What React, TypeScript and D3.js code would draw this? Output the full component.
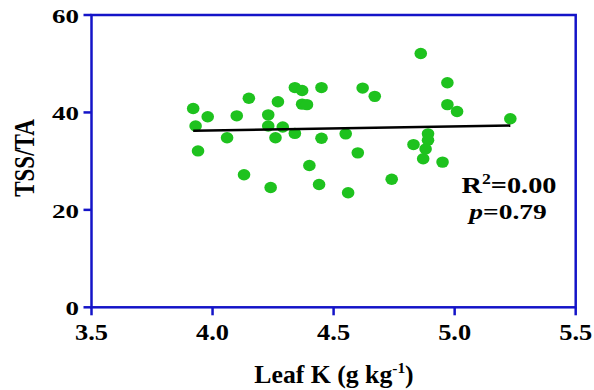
import React from 'react'
import * as d3 from 'd3'

const width = 594
const height = 390

// leaf K (g/kg) against TSS/TA
const leafK = [
  3.92, 3.98, 3.93, 3.94, 4.06, 4.10, 4.15, 4.13, 4.24, 4.23,
  4.27, 4.23, 4.26, 4.29, 4.34, 4.34, 4.37, 4.37, 4.39, 4.45,
  4.62, 4.67, 4.45, 4.55, 4.60, 4.40, 4.44, 4.56, 4.74, 4.86,
  4.97, 4.97, 5.01, 5.23, 4.89, 4.89, 4.83, 4.88, 4.87, 4.95,
]
const tssTa = [
  40.8, 39.1, 37.2, 32.1, 34.8, 39.3, 42.9, 27.2, 24.6, 39.5,
  42.2, 37.2, 34.8, 37.0, 45.1, 35.7, 44.5, 41.7, 41.6, 45.1,
  45.0, 43.3, 34.7, 35.6, 31.7, 29.1, 25.2, 23.5, 26.3, 52.1,
  46.1, 41.6, 40.2, 38.7, 35.6, 34.3, 33.4, 32.5, 30.5, 29.8,
]
const fitX = [3.92, 5.23]
const fitY = [36.25, 37.3]

const xTicks = [3.5, 4.0, 4.5, 5.0, 5.5]
const yTicks = [0, 20, 40, 60]

const blue = '#1414c8'
const green = '#1ec21e'
const font = '"Liberation Serif", "Times New Roman", serif'

function App() {
  const x = d3.scaleLinear().domain([3.5, 5.5]).range([91.5, 575.7])
  const y = d3.scaleLinear().domain([0, 60]).range([307.3, 15])
  const fmt = d3.format('.1f')
  const line = d3.line<number>().x(d => x(fitX[d])).y(d => y(fitY[d]))

  return (
    <svg width={width} height={height} style={{ position: 'absolute', left: 0, top: 0, background: '#fff' }}
      fontFamily={font} fontWeight="bold">
      {/* frame */}
      <rect x={x(3.5)} y={y(60)} width={x(5.5) - x(3.5)} height={y(0) - y(60)}
        fill="none" stroke={blue} strokeWidth={2.5} />

      {yTicks.map(t => (
        <g key={t}>
          <line x1={x(3.5) - 8} x2={x(3.5)} y1={y(t)} y2={y(t)} stroke={blue} strokeWidth={2.5} />
          <text transform={`translate(79,${y(t) + 8}) scale(1.42,1)`} textAnchor="end" fontSize={19}
            fontFamily={font}>{t}</text>
        </g>
      ))}
      {xTicks.map(t => (
        <g key={t}>
          <line x1={x(t)} x2={x(t)} y1={y(0)} y2={y(0) + 8} stroke={blue} strokeWidth={2.5} />
          <text transform={`translate(${x(t)},340) scale(1.1,1)`} textAnchor="middle" fontSize={24}
            fontFamily={font}>{fmt(t)}</text>
        </g>
      ))}

      {/* axis titles */}
      <text transform="translate(334,383) scale(1.03,1)" textAnchor="middle" fontSize={25}>
        Leaf K (g kg<tspan dy={-10} fontSize={15}>-1</tspan><tspan dy={10}>)</tspan>
      </text>
      <text transform="translate(34,158) rotate(-90) scale(1,1.25)" textAnchor="middle" fontSize={23}>TSS/TA</text>

      {/* points */}
      {leafK.map((k, i) => (
        <ellipse key={i} cx={x(k)} cy={y(tssTa[i])} rx={6.3} ry={5.7} fill={green} />
      ))}

      {/* fit */}
      <path d={line([0, 1]) ?? ''} fill="none" stroke="#000" strokeWidth={2.5} />

      {/* stats */}
      <text transform="translate(509,193) scale(1.18,1)" textAnchor="middle" fontSize={24}>
        R<tspan dy={-9} fontSize={15}>2</tspan><tspan dy={9}>=0.00</tspan>
      </text>
      <text transform="translate(508,219) scale(1.25,1)" textAnchor="middle" fontSize={22}>
        <tspan fontStyle="italic">p</tspan>=0.79
      </text>
    </svg>
  )
}

export default App
